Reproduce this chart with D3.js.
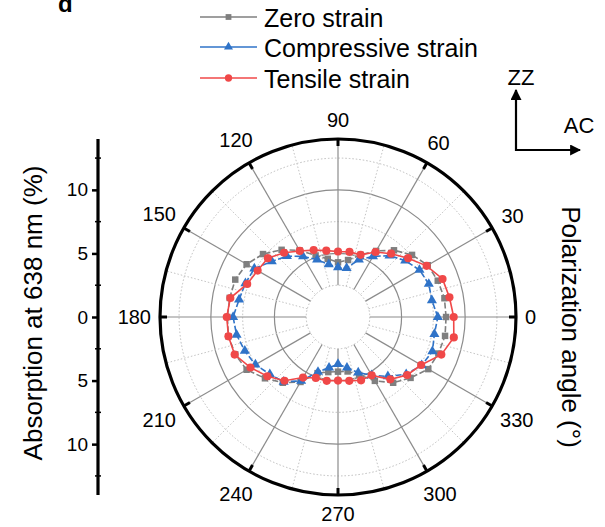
<!DOCTYPE html>
<html><head><meta charset="utf-8">
<script src="https://cdn.jsdelivr.net/npm/d3@7"></script>
<style>body{margin:0;background:#fff}svg{display:block;font-family:Arial,"Liberation Sans",sans-serif}</style>
</head><body><svg id="c" width="605" height="527"></svg>
<script>
const angles = d3.range(0, 360, 10);
const zeroStrain = [8.5,8.5,8.35,8.15,7.6,6.85,6.0,5.2,4.55,4.3,4.65,5.15,6.05,6.9,7.7,8.3,8.6,8.65,8.7,8.75,8.6,8.3,7.5,6.75,5.9,4.7,4.4,4.3,4.35,4.85,5.8,6.75,7.45,8.2,8.4,8.55];
const compressive = [7.85,7.5,7.6,7.4,6.9,6.3,5.5,4.8,3.9,3.9,4.2,4.8,5.5,6.25,6.8,7.6,7.75,7.9,8.25,8.1,7.8,7.5,7.0,6.65,5.8,4.6,4.05,3.7,4.05,4.65,5.3,6.1,7.0,7.6,7.9,7.7];
const tensile = [9.1,8.9,8.75,8.05,7.2,6.5,5.9,5.2,5.2,5.15,5.3,5.6,6.0,6.6,7.2,7.3,7.6,8.6,8.75,8.75,8.65,7.95,7.25,6.55,5.5,5.1,5.1,5.0,5.1,5.3,5.3,6.4,7.1,7.55,8.65,9.25];
const seriesNames = ["Zero strain","Compressive strain","Tensile strain"];
const angleTicks = [0,30,60,90,120,150,180,210,240,270,300,330];
const radialTicks = [-10,-5,0,5,10];
const radialMinor = [-12.5,-7.5,-2.5,2.5,7.5,12.5];

const svg = d3.select("#c");
const cx = 338, cy = 317, R = 178, rMax = 14;
const r = d3.scaleLinear().domain([0, rMax]).range([0, R]);
const rad = d => d * Math.PI / 180;
const px = (a, v) => cx + r(v) * Math.cos(rad(a));
const py = (a, v) => cy - r(v) * Math.sin(rad(a));

const colors = ["#7f7f7f", "#2f73c8", "#f04848"];
const shapes = [d3.symbolSquare, d3.symbolTriangle, d3.symbolCircle];
const sizes = [42, 44, 52];

// grid
const g = svg.append("g");
[2.5, 7.5, 12.5].forEach(v => g.append("circle").attr("cx", cx).attr("cy", cy).attr("r", r(v))
  .attr("fill", "none").attr("stroke", "#bdbdbd").attr("stroke-width", 1).attr("stroke-dasharray", "1.5,2"));
[5, 10].forEach(v => g.append("circle").attr("cx", cx).attr("cy", cy).attr("r", r(v))
  .attr("fill", "none").attr("stroke", "#8c8c8c").attr("stroke-width", 1.2));
d3.range(15, 360, 30).forEach(a => g.append("line")
  .attr("x1", px(a, 2.5)).attr("y1", py(a, 2.5)).attr("x2", px(a, rMax)).attr("y2", py(a, rMax))
  .attr("stroke", "#c4c4c4").attr("stroke-width", 1).attr("stroke-dasharray", "1.5,2"));
angleTicks.forEach(a => g.append("line")
  .attr("x1", px(a, 2.5)).attr("y1", py(a, 2.5)).attr("x2", px(a, rMax)).attr("y2", py(a, rMax))
  .attr("stroke", "#8c8c8c").attr("stroke-width", 1.2));

// outer circle
svg.append("circle").attr("cx", cx).attr("cy", cy).attr("r", R).attr("fill", "none")
  .attr("stroke", "#000").attr("stroke-width", 3.2);
angleTicks.forEach(a => svg.append("line")
  .attr("x1", px(a, rMax)).attr("y1", py(a, rMax))
  .attr("x2", cx + (R - 7) * Math.cos(rad(a))).attr("y2", cy - (R - 7) * Math.sin(rad(a)))
  .attr("stroke", "#000").attr("stroke-width", 3));
angleTicks.forEach(a => {
  const t = svg.append("text").attr("text-anchor", "middle").attr("dominant-baseline", "central")
    .attr("font-size", 20).text(a);
  const w = t.node().getComputedTextLength();
  const c = Math.cos(rad(a)), s = Math.sin(rad(a));
  const off = R + 9 + Math.abs(c) * w / 2 + Math.abs(s) * 10;
  t.attr("x", cx + off * c).attr("y", cy - off * s);
});

// series
const data = [zeroStrain, compressive, tensile];
data.forEach((vals, i) => {
  const pts = angles.map((a, k) => [px(a, vals[k]), py(a, vals[k])]);
  svg.append("path").attr("d", d3.line().curve(d3.curveLinearClosed)(pts))
    .attr("fill", "none").attr("stroke", colors[i]).attr("stroke-width", 1.6)
    .attr("stroke-dasharray", i === 2 ? null : "6,2.5");
  svg.append("g").selectAll("path").data(pts).join("path")
    .attr("transform", d => `translate(${d[0]},${d[1]})`)
    .attr("d", d3.symbol().type(shapes[i]).size(sizes[i]))
    .attr("fill", colors[i]);
});

// left radial axis
const yAx = d3.scaleLinear().domain([rMax, -rMax]).range([cy - R, cy + R]);
const ax = svg.append("g").attr("transform", "translate(98,0)")
  .call(d3.axisLeft(yAx).tickValues(radialTicks).tickSize(6).tickPadding(4)
    .tickFormat(d => Math.abs(d)));
ax.select(".domain").attr("stroke", "#000").attr("stroke-width", 3.2).attr("d", `M0,${cy - R}V${cy + R}`);
ax.selectAll(".tick line").attr("stroke-width", 2.5);
ax.selectAll(".tick text").attr("font-size", 19).attr("font-family", "Arial, 'Liberation Sans', sans-serif").attr("fill", "#000");
radialMinor.forEach(v => svg.append("line").attr("x1", 95).attr("x2", 101)
  .attr("y1", yAx(v)).attr("y2", yAx(v)).attr("stroke", "#000").attr("stroke-width", 1.5));

svg.append("text").attr("transform", `translate(42,313) rotate(-90)`)
  .attr("text-anchor", "middle").attr("font-size", 26).text("Absorption at 638 nm (%)");
svg.append("text").attr("transform", `translate(562,327) rotate(90)`)
  .attr("text-anchor", "middle").attr("font-size", 26).text("Polarization angle (°)");

// legend
const ly = [17, 47, 78];
seriesNames.forEach((n, i) => {
  svg.append("line").attr("x1", 200).attr("x2", 257).attr("y1", ly[i]).attr("y2", ly[i])
    .attr("stroke", colors[i]).attr("stroke-width", 1.6);
  svg.append("path").attr("transform", `translate(228.5,${ly[i]})`)
    .attr("d", d3.symbol().type(shapes[i]).size(sizes[i] * 0.8)).attr("fill", colors[i]);
  svg.append("text").attr("x", 264).attr("y", ly[i] + 1).attr("dominant-baseline", "central")
    .attr("font-size", 25).text(n);
});

// panel letter
svg.append("text").attr("x", 58).attr("y", 12).attr("font-size", 24).attr("font-weight", "bold").text("d");

// ZZ / AC arrows
svg.append("defs").append("marker").attr("id", "ah").attr("viewBox", "0 0 10 10")
  .attr("refX", 9).attr("refY", 5).attr("markerWidth", 5).attr("markerHeight", 5)
  .attr("orient", "auto").append("path").attr("d", "M0,0L10,5L0,10z").attr("fill", "#000");
svg.append("line").attr("x1", 516).attr("y1", 151).attr("x2", 516).attr("y2", 90)
  .attr("stroke", "#000").attr("stroke-width", 2.2).attr("marker-end", "url(#ah)");
svg.append("line").attr("x1", 515).attr("y1", 150).attr("x2", 580).attr("y2", 150)
  .attr("stroke", "#000").attr("stroke-width", 2.2).attr("marker-end", "url(#ah)");
svg.append("text").attr("x", 521).attr("y", 85).attr("text-anchor", "middle").attr("font-size", 22).text("ZZ");
svg.append("text").attr("x", 579).attr("y", 133).attr("text-anchor", "middle").attr("font-size", 22).text("AC");
</script></body></html>
